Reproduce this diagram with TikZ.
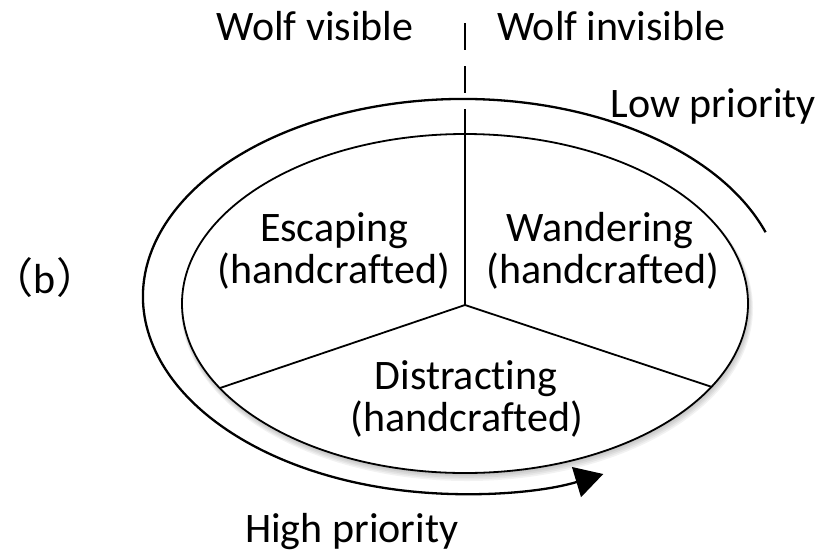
\documentclass[tikz,border=0pt]{standalone}
\usepackage{fontspec}
\setmainfont{Carlito}[Ligatures=NoCommon]
\newfontfamily\cjk{Noto Sans CJK SC}[RawFeature=+halt]
\usetikzlibrary{arrows.meta,calc}
\begin{document}
\begin{tikzpicture}[x=1pt,y=1pt,
  lbl/.style={font=\fontsize{42}{46}\selectfont, inner sep=0pt, anchor=base},
  innerring/.style={line width=1.8pt},
  outerring/.style={line width=2.3pt},
  spoke/.style={line width=1.8pt},
  divider/.style={line width=2.4pt, dash pattern=on 27pt off 16pt},
  shadowring/.style={fill=black, fill opacity=0.05, draw=none}]
\useasboundingbox (0,0) rectangle (821,-555);
% named points
\coordinate (ctr) at (465,-305);
\coordinate (top) at (465,-134);
\coordinate (dtop) at (465,-23);
\coordinate (lft) at (220,-388);
\coordinate (rgt) at (712,-387);
\coordinate (ostart) at ($(463,-296.5)+(19:320 and 197.5)$);
% shadow
\foreach \s in {1,2,3,4,5}
  \fill[shadowring] (465+0.4*\s,-303.5-1.0*\s) ellipse ({283+0.6*\s} and {169.5+0.6*\s});
% inner ellipse
\draw[innerring, fill=white] (465,-303.5) ellipse (283 and 169.5);
% outer arc with arrow
\draw[outerring, -{Triangle[length=28pt,width=31pt]}]
  (ostart) arc[start angle=19, end angle=296, x radius=320, y radius=197.5];
% spokes
\draw[spoke] (ctr) -- (top);
\draw[spoke] (ctr) -- (lft);
\draw[spoke] (ctr) -- (rgt);
\draw[divider] (dtop) -- (top);
% labels
\node[lbl] (wv) at (315,-40) {Wolf visible};
\node[lbl, anchor=base west] (wi) at (497,-40) {Wolf invisible};
\node[lbl, anchor=base east] (lp) at (816,-117) {Low priority};
\node[lbl] (esc1) at (334,-241) {Escaping};
\node[lbl] (esc2) at (334,-283) {(handcrafted)};
\node[lbl] (wan1) at (600,-241) {Wandering};
\node[lbl] (wan2) at (603,-283) {(handcrafted)};
\node[lbl] (dis1) at (466,-389) {Distracting};
\node[lbl] (dis2) at (467,-431) {(handcrafted)};
\node[lbl, anchor=base west] (hp) at (245,-542) {High priority};
\node[lbl] (blab) at (45,-293) {{\cjk （}b{\cjk ）}};
\end{tikzpicture}
\end{document}
